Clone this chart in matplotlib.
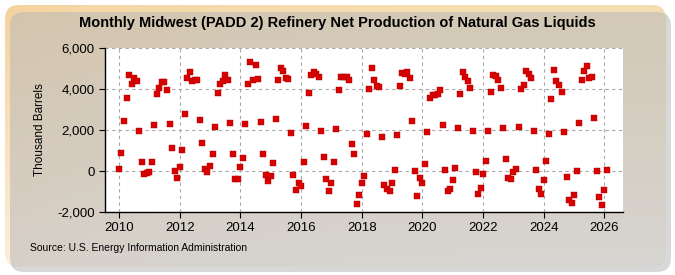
#!/usr/bin/env python3
import numpy as np
import matplotlib
matplotlib.use('Agg')
import matplotlib.pyplot as plt
from matplotlib.patches import FancyBboxPatch
from matplotlib.ticker import FuncFormatter

FONT = ['Liberation Sans Narrow', 'Liberation Sans', 'DejaVu Sans']

TITLE = 'Monthly Midwest (PADD 2) Refinery Net Production of Natural Gas Liquids'
Y_LABEL = 'Thousand Barrels'
SOURCE = 'Source: U.S. Energy Information Administration'

START_YEAR = 2010
# thousand barrels, one value per month starting Jan 2010
production = [
    110, 890, 2450, 3580, 4700, 4260, 4550, 4410, 1970, 460, -130, -80,          # 2010
    -30, 460, 2260, 3760, 4070, 4360, 4360, 3970, 2290, 1140, 20, -330,          # 2011
    210, 1040, 2800, 4550, 4850, 4410, 4460, 4460, 2490, 1380, 110, -30,         # 2012
    260, 850, 2130, 3820, 4260, 4410, 4700, 4460, 2360, 850, -370, -370,         # 2013
    210, 650, 2310, 4260, 5330, 4440, 5190, 4500, 2410, 850, -180, -470,         # 2014
    -230, 410, 2550, 4460, 5040, 4890, 4550, 4500, 1870, -180, -910, -570,       # 2015
    -720, 460, 2210, 3820, 4700, 4850, 4750, 4600, 1970, 700, -370, -960,        # 2016
    -570, 460, 2070, 3970, 4600, 4600, 4600, 4460, 1330, 850, -1600, -1160,      # 2017
    -570, -230, 1820, 4020, 5040, 4460, 4160, 4110, 1680, -670, -860, -960,      # 2018
    -570, 70, 1770, 4160, 4800, 4750, 4850, 4550, 2450, 20, -1200, -330,         # 2019
    -570, 360, 1920, 3580, 3720, 3720, 3770, 3970, 2260, 70, -960, -860,         # 2020
    -420, 160, 2110, 3770, 4850, 4600, 4410, 4070, 1970, -30, -1110, -810,       # 2021
    -130, 500, 1970, 3870, 4700, 4650, 4460, 4070, 2110, 600, -330, -370,        # 2022
    -30, 110, 2160, 4020, 4210, 4890, 4750, 4550, 1970, 70, -860, -1110,         # 2023
    -420, 500, 1820, 3530, 4940, 4410, 4210, 3870, 1920, -280, -1400, -1550,     # 2024
    -1160, 20, 2360, 4460, 4890, 5140, 4550, 4600, 2600, 20, -1250, -1640,       # 2025
    -910, 70,                                                                    # 2026
]

x_ticks = list(range(2010, 2027, 2))
y_ticks = [-2000, 0, 2000, 4000, 6000]


def draw_background(fig):
    bg = fig.add_axes([0, 0, 1, 1], zorder=-10)
    bg.set_xlim(0, 675)
    bg.set_ylim(0, 275)
    bg.axis('off')
    # soft shadow bottom/right
    shadow = FancyBboxPatch((10, 3), 661, 260, boxstyle='round,pad=0,rounding_size=14',
                            fc='#b8b8b8', ec='none', alpha=0.55)
    bg.add_patch(shadow)
    box = FancyBboxPatch((5, 8), 661, 262, boxstyle='round,pad=0,rounding_size=14',
                         fc='none', ec='none')
    bg.add_patch(box)
    top = np.array([245, 221, 178]) / 255
    bottom = np.array([253, 248, 240]) / 255
    t = np.linspace(0, 1, 256)[:, None]
    grad = top + (bottom - top) * t[..., None]
    # a bit warmer towards the left edge
    side = np.linspace(1, 0, 256)[None, :, None] ** 3 * 0.04
    grad = np.clip(grad - side * np.array([0, 1, 2]), 0, 1)
    im = bg.imshow(grad, extent=(5, 666, 8, 270), origin='upper', aspect='auto')
    im.set_clip_path(box)


def main():
    plt.rcParams['font.family'] = FONT
    fig = plt.figure(figsize=(6.75, 2.75), dpi=100)
    fig.patch.set_facecolor('white')
    draw_background(fig)

    ax = fig.add_axes([105 / 675, 63 / 275, (622.7 - 105) / 675, (212 - 48) / 275])
    ax.set_facecolor('white')

    x = START_YEAR + np.arange(len(production)) / 12.0
    ax.scatter(x, production, marker='s', s=14, c='#d80000', edgecolors='#b00000',
               linewidths=0.3, zorder=3)

    ax.set_xlim(2009.54, 2026.6)
    ax.set_ylim(-2000, 6000)
    ax.set_xticks(x_ticks)
    ax.set_yticks(y_ticks)
    ax.yaxis.set_major_formatter(FuncFormatter(lambda v, _: f'{v:,.0f}'))
    ax.grid(True, color='#a8a8a8', linestyle=(0, (3, 3)), linewidth=0.8)
    ax.set_axisbelow(True)

    for side in ['top', 'right']:
        ax.spines[side].set_visible(False)
    for side in ['left', 'bottom']:
        ax.spines[side].set_color('black')
        ax.spines[side].set_linewidth(1.0)
    ax.tick_params(axis='both', length=4, width=0.8, labelsize=9.5, colors='black')

    ax.set_ylabel(Y_LABEL, fontsize=8.5, labelpad=8)
    fig.text(0.5, 0.915, TITLE, ha='center', va='center', fontsize=10.5, fontweight='bold')
    fig.text(30 / 675, 1 - 248 / 275, SOURCE, ha='left', va='center', fontsize=7.5)

    fig.savefig('out.png', dpi=100)


if __name__ == '__main__':
    main()
